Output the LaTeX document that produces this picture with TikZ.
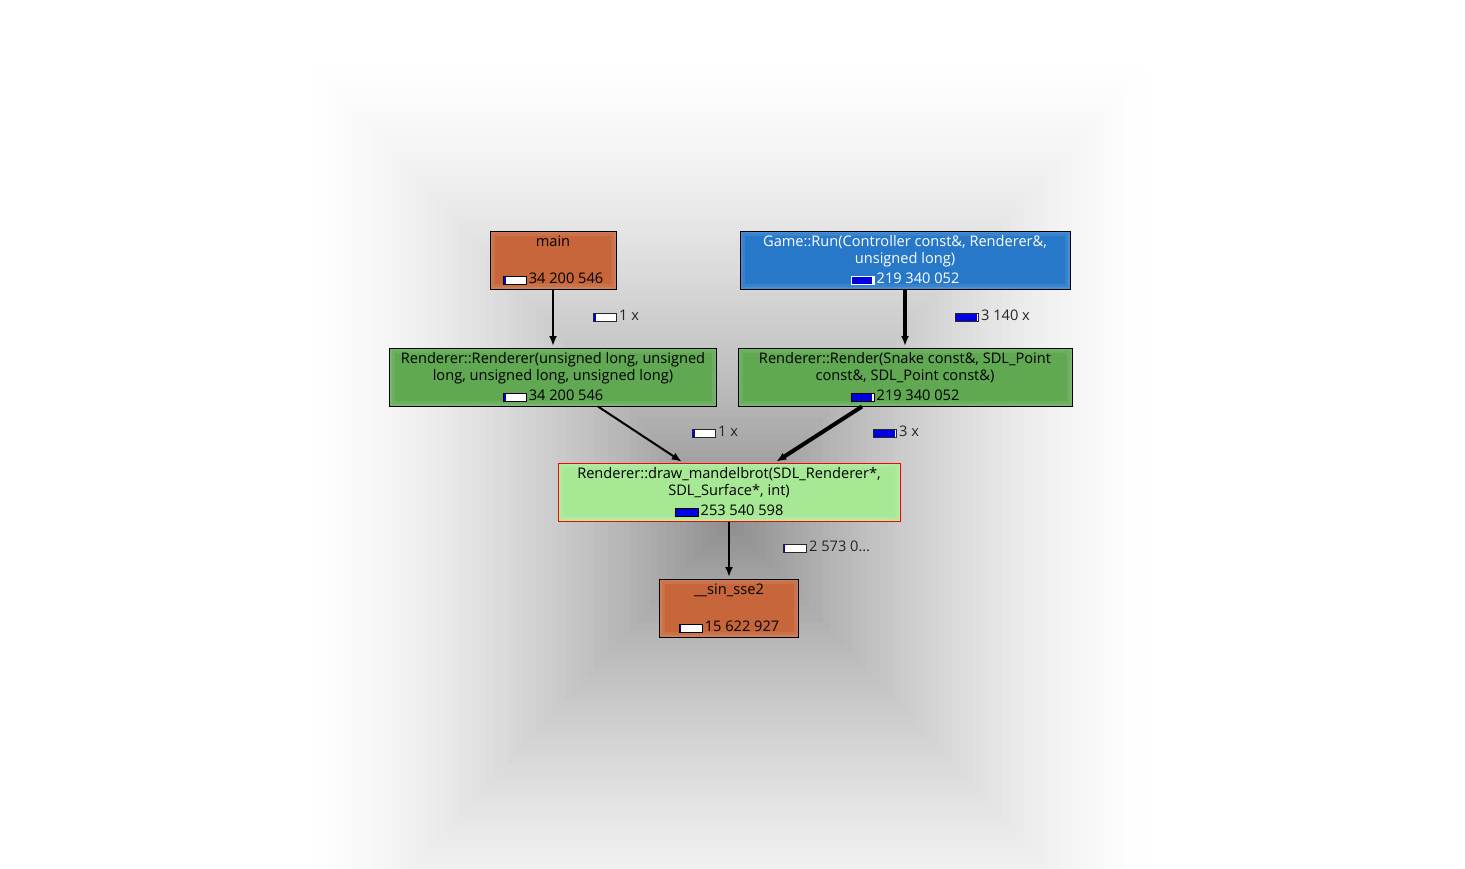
\documentclass[tikz,border=0pt]{standalone}
\usepackage{fontspec}
\setmainfont{Open Sans}
\usetikzlibrary{positioning,arrows.meta}
\definecolor{fnorange}{RGB}{198,102,58}
\definecolor{fnblue}{RGB}{40,120,202}
\definecolor{fngreen}{RGB}{96,168,82}
\definecolor{fnlight}{RGB}{166,232,148}
\definecolor{barblue}{RGB}{0,0,225}
\newcommand{\fnfont}{\fontsize{14.6}{17}\selectfont}
\newcommand{\costbar}[1]{{\setlength{\fboxsep}{0pt}\setlength{\fboxrule}{1pt}%
  \fbox{\textcolor{barblue}{\rule{#1pt}{7pt}}\textcolor{white}{\rule{\dimexpr 22pt-#1pt\relax}{7pt}}}}\kern2pt}
\tikzset{fn/.style={rectangle,draw=black,line width=1pt,minimum height=58pt,inner sep=0pt,
    fill=#1!84!white,
    path picture={
      \fill[#1!92!white] ([shift={(2pt,-2pt)}]path picture bounding box.north west) rectangle ([shift={(-2pt,2pt)}]path picture bounding box.south east);
      \fill[#1] ([shift={(5pt,-5pt)}]path picture bounding box.north west) rectangle ([shift={(-5pt,5pt)}]path picture bounding box.south east);
    }}}
\tikzstyle{fname}=[anchor=base,align=center,inner sep=0pt,font=\fnfont]
\tikzstyle{fcost}=[anchor=base,inner sep=0pt,font=\fnfont]
\tikzstyle{ecost}=[anchor=west,inner sep=0pt,font=\fnfont,text=black!85]
\tikzstyle{call}=[-{Latex[length=10pt,width=8pt]},line width=2pt,shorten >=1.5pt]
\tikzstyle{hotcall}=[call,line width=4pt]

\begin{document}
\begin{tikzpicture}[x=1pt,y=-1pt,node distance=58pt]
            \useasboundingbox (0,0) rectangle (1465,868);
            \fill[white] (0,0) rectangle (1465,868);

            % BACKGROUND SHADOW
            \foreach \i in {1,...,60} {
                \pgfmathsetmacro\t{(\i-1)/60}
                \pgfmathsetmacro\p{45*\t^1.5}
                \fill[black!\p] ({730-430*(1-\t)},{520-470*(1-\t)}) rectangle ({730+430*(1-\t)},{520+470*(1-\t)});
            }

            % CALLERS PART

            \node[fn=fnorange,minimum width=126pt] (main) at (553,260) {};
            \node[fname] (main-name) at ([yshift=-16pt]main.north) {main};
            \node[fcost] (main-cost) at ([yshift=6pt]main.south) {\costbar{2}34 200 546};

            \node[fn=fnblue,minimum width=330pt] (game) at (905,260) {};
            \node[fname,text=white] (game-name) at ([yshift=-33pt]game.north) {Game::Run(Controller const\&, Renderer\&,\\unsigned long)};
            \node[fcost,text=white] (game-cost) at ([yshift=6pt]game.south) {\costbar{20}219 340 052};

            % RENDERER PART

            \node[fn=fngreen,minimum width=327pt,below=of main] (ctor) {};
            \node[fname] (ctor-name) at ([yshift=-33pt]ctor.north) {Renderer::Renderer(unsigned long, unsigned\\long, unsigned long, unsigned long)};
            \node[fcost] (ctor-cost) at ([yshift=6pt]ctor.south) {\costbar{2}34 200 546};

            \node[fn=fngreen,minimum width=334pt,below=of game] (render) {};
            \node[fname] (render-name) at ([yshift=-33pt]render.north) {Renderer::Render(Snake const\&, SDL\_Point\\const\&, SDL\_Point const\&)};
            \node[fcost] (render-cost) at ([yshift=6pt]render.south) {\costbar{20}219 340 052};

            % MANDELBROT PART

            \node[fn=fnlight,draw=red,minimum width=342pt] (draw) at (729,492) {};
            \node[fname] (draw-name) at ([yshift=-33pt]draw.north) {Renderer::draw\_mandelbrot(SDL\_Renderer*,\\SDL\_Surface*, int)};
            \node[fcost] (draw-cost) at ([yshift=6pt]draw.south) {\costbar{22}253 540 598};

            \node[fn=fnorange,minimum width=139pt,below=57pt of draw] (sin) {};
            \node[fname] (sin-name) at ([yshift=-16pt]sin.north) {\_\_sin\_sse2};
            \node[fcost] (sin-cost) at ([yshift=6pt]sin.south) {\costbar{1}15 622 927};

            % Calls

            \path[call] (main) edge (ctor);
            \path[hotcall] (game) edge (render);
            \path[call] ([xshift=45pt]ctor.south) edge ([xshift=-46pt]draw.north);
            \path[hotcall] ([xshift=-43pt]render.south) edge ([xshift=46pt]draw.north);
            \path[call] (draw) edge (sin);

            \node[ecost] (main-calls) at (593,316) {\costbar{2}1 x};
            \node[ecost] (game-calls) at (955,316) {\costbar{21}3 140 x};
            \node[ecost] (ctor-calls) at (692,432) {\costbar{2}1 x};
            \node[ecost] (render-calls) at (873,432) {\costbar{21}3 x};
            \node[ecost] (draw-calls) at (783,547) {\costbar{1}2 573 0…};

\end{tikzpicture}
\end{document}
